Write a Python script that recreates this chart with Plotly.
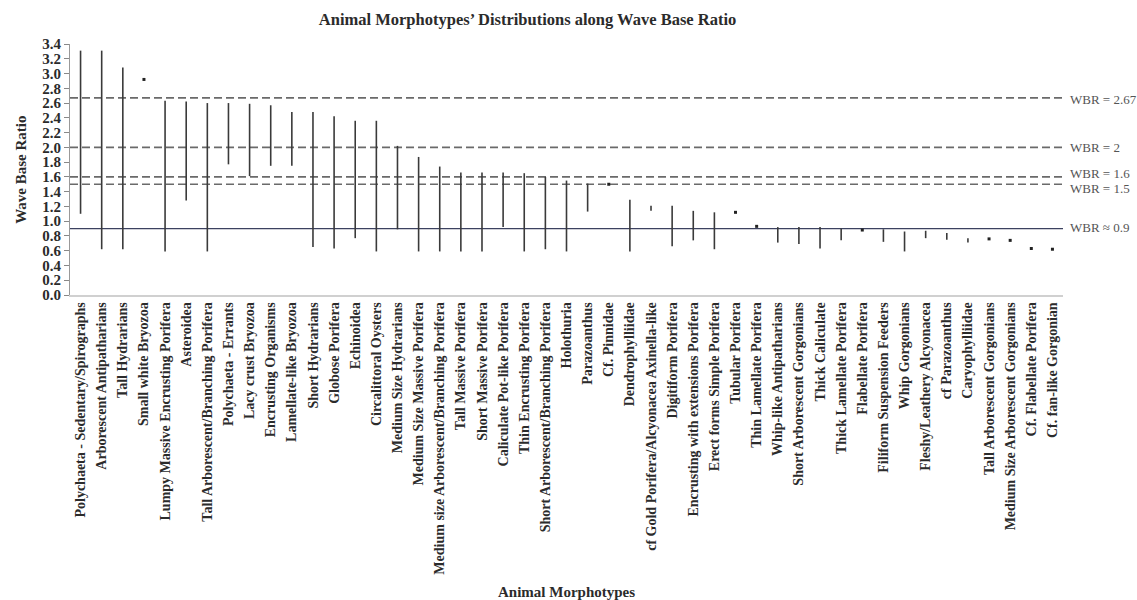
import plotly.graph_objects as go

# Animal morphotypes, ordered by the upper end of their wave base ratio range
morphotypes = [
    "Polychaeta - Sedentary/Spirographs",
    "Arborescent Antipatharians",
    "Tall Hydrarians",
    "Small white Bryozoa",
    "Lumpy Massive Encrusting Porifera",
    "Asteroidea",
    "Tall Arborescent/Branching Porifera",
    "Polychaeta - Errants",
    "Lacy crust Bryozoa",
    "Encrusting Organisms",
    "Lamellate-like Bryozoa",
    "Short Hydrarians",
    "Globose Porifera",
    "Echinoidea",
    "Circalittoral Oysters",
    "Medium Size Hydrarians",
    "Medium Size Massive Porifera",
    "Medium size Arborescent/Branching Porifera",
    "Tall Massive Porifera",
    "Short Massive Porifera",
    "Caliculate Pot-like Porifera",
    "Thin Encrusting Porifera",
    "Short Arborescent/Branching Porifera",
    "Holothuria",
    "Parazoanthus",
    "Cf. Pinnidae",
    "Dendrophylliidae",
    "cf Gold Porifera/Alcyonacea Axinella-like",
    "Digitiform Porifera",
    "Encrusting with extensions Porifera",
    "Erect forms Simple Porifera",
    "Tubular Porifera",
    "Thin Lamellate Porifera",
    "Whip-like Antipatharians",
    "Short Arborescent Gorgonians",
    "Thick Caliculate",
    "Thick Lamellate Porifera",
    "Flabellate Porifera",
    "Filiform Suspension Feeders",
    "Whip Gorgonians",
    "Fleshy/Leathery Alcyonacea",
    "cf Parazoanthus",
    "Caryophylliidae",
    "Tall Arborescent Gorgonians",
    "Medium Size Arborescent Gorgonians",
    "Cf. Flabellate Porifera",
    "Cf. fan-like Gorgonian",
]

wbr_max = [3.31, 3.31, 3.08, 2.92, 2.63, 2.62, 2.60, 2.60, 2.59, 2.57,
           2.48, 2.48, 2.42, 2.36, 2.36, 2.02, 1.87, 1.74, 1.66, 1.66,
           1.66, 1.65, 1.60, 1.55, 1.51, 1.50, 1.29, 1.21, 1.21, 1.14,
           1.12, 1.12, 0.93, 0.92, 0.92, 0.92, 0.90, 0.88, 0.89, 0.86,
           0.87, 0.84, 0.77, 0.76, 0.74, 0.63, 0.62]

wbr_min = [1.10, 0.62, 0.62, 2.92, 0.59, 1.28, 0.59, 1.77, 1.61, 1.75,
           1.75, 0.65, 0.63, 0.77, 0.59, 0.89, 0.59, 0.59, 0.59, 0.59,
           0.92, 0.59, 0.62, 0.59, 1.13, 1.50, 0.59, 1.14, 0.66, 0.74,
           0.62, 1.12, 0.93, 0.71, 0.69, 0.63, 0.74, 0.88, 0.72, 0.59,
           0.77, 0.75, 0.71, 0.76, 0.74, 0.63, 0.62]

# Reference wave base ratio thresholds
thresholds = [2.67, 2.0, 1.6, 1.5]
threshold_labels = ["WBR = 2.67", "WBR = 2", "WBR = 1.6", "WBR = 1.5"]
threshold_label_y = [2.65, 2.0, 1.65, 1.44]
base_level = 0.9
base_label = "WBR \u2248 0.9"

y_ticks = [round(0.2 * i, 1) for i in range(18)]

SERIF = "Liberation Serif"
INK = "#2b2b2b"

# split morphotypes into vertical ranges and single observations
range_x, range_y = [], []
point_x, point_y = [], []
for name, lo, hi in zip(morphotypes, wbr_min, wbr_max):
    if hi > lo:
        range_x += [name, name, None]
        range_y += [lo, hi, None]
    else:
        point_x.append(name)
        point_y.append(hi)

fig = go.Figure()
fig.add_trace(go.Scatter(
    x=range_x, y=range_y, mode="lines",
    line=dict(color="#3a3a3a", width=1.6),
    connectgaps=False, showlegend=False, hoverinfo="skip",
))
fig.add_trace(go.Scatter(
    x=point_x, y=point_y, mode="markers",
    marker=dict(symbol="square", size=3, color="#222222"),
    showlegend=False,
))

# threshold lines
for t in thresholds:
    fig.add_shape(type="line", xref="paper", x0=0, x1=1, yref="y", y0=t, y1=t,
                  line=dict(color="#6a6a6a", width=1.6, dash="8px,4px"), layer="below")
fig.add_shape(type="line", xref="paper", x0=0, x1=1, yref="y",
              y0=base_level, y1=base_level,
              line=dict(color="#3c4260", width=1.3), layer="below")

for txt, yv in zip(threshold_labels, threshold_label_y):
    fig.add_annotation(text=txt, xref="paper", x=1.005, xanchor="left",
                       yref="y", y=yv, yanchor="middle", showarrow=False,
                       font=dict(family=SERIF, size=13, color="#555555"))
fig.add_annotation(text=base_label, xref="paper", x=1.005, xanchor="left",
                   yref="y", y=base_level + 0.02, yanchor="middle", showarrow=False,
                   font=dict(family=SERIF, size=13, color="#555555"))

# axis titles
fig.add_annotation(text="Wave Base Ratio", xref="paper", x=-0.05, xanchor="center",
                   yref="paper", y=0.5, yanchor="middle", textangle=-90,
                   showarrow=False,
                   font=dict(family=SERIF, size=15, color=INK, weight="bold"))
fig.add_annotation(text="Animal Morphotypes", xref="paper", x=0.5, xanchor="center",
                   yref="paper", y=-1.183, yanchor="middle", showarrow=False,
                   font=dict(family=SERIF, size=15, color=INK, weight="bold"))

fig.update_layout(
    width=1137, height=600,
    margin=dict(l=70, r=74, t=44, b=305, autoexpand=False),
    paper_bgcolor="white", plot_bgcolor="white",
    title=dict(text="Animal Morphotypes\u2019 Distributions along Wave Base Ratio",
               x=0.464, xref="container", xanchor="center",
               y=1 - 19 / 600, yref="container", yanchor="middle",
               font=dict(family=SERIF, size=16.5, color=INK, weight="bold")),
    xaxis=dict(
        type="category", categoryorder="array", categoryarray=morphotypes,
        range=[-0.5, len(morphotypes) - 0.5],
        tickangle=-90, ticks="", showgrid=False, zeroline=False,
        showline=True, linecolor="#d0d0d0", linewidth=1.5,
        tickfont=dict(family=SERIF, size=14, color=INK, weight="bold"),
        automargin=False,
    ),
    yaxis=dict(
        range=[0, 3.4], tickvals=y_ticks, ticktext=[f"{v:.1f}" for v in y_ticks],
        ticks="outside", ticklen=5, tickcolor="#888888", tickwidth=1,
        showgrid=False, zeroline=False,
        showline=True, linecolor="#999999", linewidth=1,
        tickfont=dict(family=SERIF, size=15, color=INK, weight="bold"),
        automargin=False,
    ),
)

fig.write_html("out.html")
